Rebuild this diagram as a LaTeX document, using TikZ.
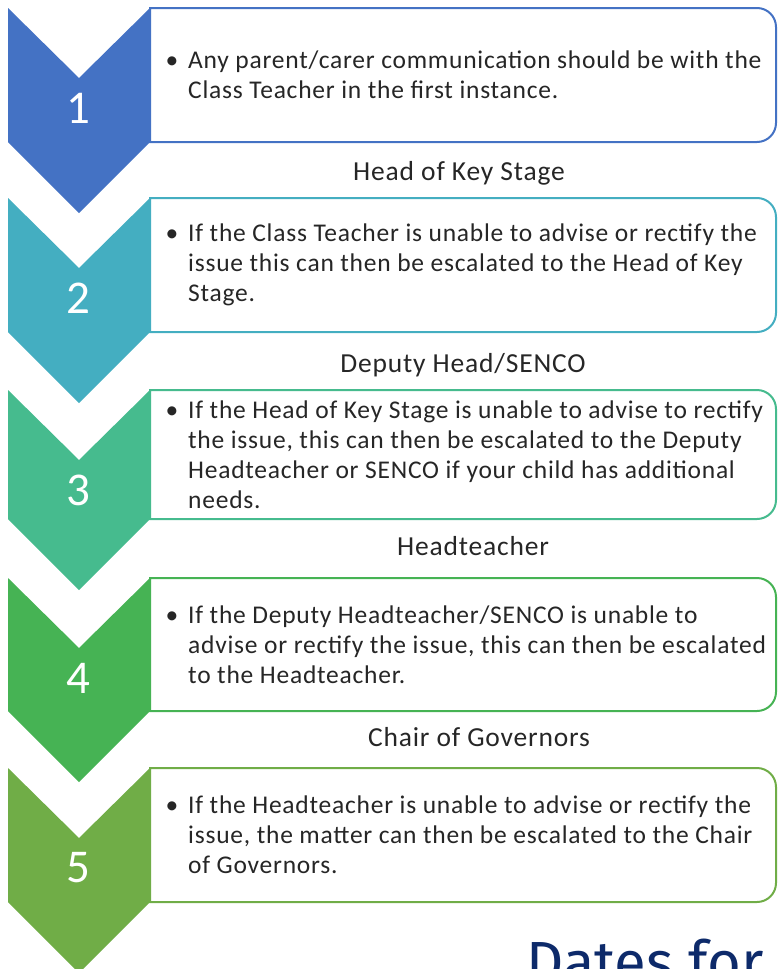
\documentclass[tikz,border=0pt]{standalone}
\usepackage{fontspec}
\setmainfont{Carlito}
\newfontfamily\bodyfont{Carlito}[LetterSpace=3]
\newfontfamily\handfont{Fira Sans}
\definecolor{cA}{HTML}{4472C4}
\definecolor{cB}{HTML}{44AEC1}
\definecolor{cC}{HTML}{46BB8E}
\definecolor{cD}{HTML}{46B354}
\definecolor{cE}{HTML}{70AD47}
\definecolor{txt}{HTML}{262626}
\definecolor{navy}{HTML}{0D2A6A}
\newcommand{\bul}{\llap{\textbullet\hspace{10pt}}}
\begin{document}
\begin{tikzpicture}[x=1pt,y=-1pt,
  body/.style={anchor=west, align=left, inner sep=0pt, text=txt, font=\bodyfont\fontsize{25.5}{30}\selectfont},
  head/.style={anchor=base, inner sep=0pt, text=txt, font=\bodyfont\fontsize{27.5}{30}\selectfont},
  num/.style={text=white, inner sep=0pt, font=\fontsize{47}{50}\selectfont},
  boxline/.style={line width=2pt, fill=white}]
\useasboundingbox (0,0) rectangle (777,969);
\clip (0,0) rectangle (777,969);
\foreach \ya/\yb/\cc/\nn in {8/142/cA/1,198/332/cB/2,390/519/cC/3,578/711/cD/4,768/902/cE/5}{
  \draw[boxline, draw=\cc] (150,\ya) -- (757,\ya) arc[start angle=-90,end angle=0,radius=19] -- (776,\yb-19) arc[start angle=0,end angle=90,radius=19] -- (150,\yb) -- cycle;
  \fill[\cc] (8,\ya) -- (79,\ya+70) -- (150,\ya) -- (150,\yb) -- (79,\yb+71) -- (8,\yb) -- cycle;
  \node[num] (num\nn) at (78,\ya+100) {\nn};
}
\node[body] (t1) at (188,75) {\bul Any parent/carer communication should be with the\\Class Teacher in the first instance.};
\node[body] (t2) at (188,265) {\bul If the Class Teacher is unable to advise or rectify the\\issue this can then be escalated to the Head of Key\\Stage.};
\node[body] (t3) at (188,455) {\bul If the Head of Key Stage is unable to advise to rectify\\the issue, this can then be escalated to the Deputy\\Headteacher or SENCO if your child has additional\\needs.};
\node[body] (t4) at (188,645) {\bul If the Deputy Headteacher/SENCO is unable to\\advise or rectify the issue, this can then be escalated\\to the Headteacher.};
\node[body] (t5) at (188,835) {\bul If the Headteacher is unable to advise or rectify the\\issue, the matter can then be escalated to the Chair\\of Governors.};
\node[head] (h2) at (459,180) {Head of Key Stage};
\node[head] (h3) at (463,372) {Deputy Head/SENCO};
\node[head] (h4) at (473,555) {Headteacher};
\node[head] (h5) at (479,746) {Chair of Governors};
\node[anchor=base west, inner sep=0pt, text=navy, font=\handfont\fontsize{58}{60}\selectfont] (dates) at (526,982) {Dates for};
\end{tikzpicture}
\end{document}
